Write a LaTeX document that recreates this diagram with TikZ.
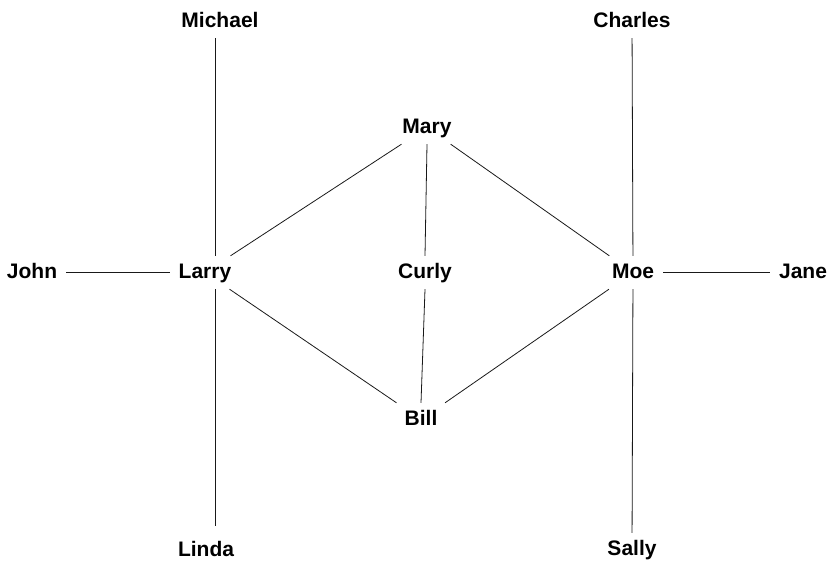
\documentclass[tikz,border=0pt]{standalone}
\usepackage{fontspec}
\setmainfont{Liberation Sans}
\usepackage{tikz}

\begin{document}
\begin{tikzpicture}[
    x=1pt, y=-1pt,
    person/.style={anchor=base, font=\fontsize{21}{25}\selectfont\bfseries,
        text height=15pt, text depth=4pt, inner xsep=9pt, inner ysep=7pt},
    tie/.style={line width=0.8pt, draw=black!90}
]
\useasboundingbox (0,0) rectangle (834,562);
\node[person] (michael) at (220,27) {Michael};
\node[person] (charles) at (632,27) {Charles};
\node[person] (mary) at (427,133) {Mary};
\node[person] (john) at (32,278) {John};
\node[person] (larry) at (205,278) {Larry};
\node[person] (curly) at (425,278) {Curly};
\node[person] (moe) at (633,278) {Moe};
\node[person] (jane) at (803,278) {Jane};
\node[person] (bill) at (421,425) {Bill};
\node[person] (linda) at (206,556) {Linda};
\node[person] (sally) at (632,555) {Sally};

\draw[tie] ([xshift=-5pt]michael.south) -- ([xshift=10pt]larry.north);
\draw[tie] ([xshift=10pt]larry.south) -- ([xshift=9pt,yshift=8pt]linda.north);
\draw[tie] (john) -- (larry);
\draw[tie] (charles) -- (moe);
\draw[tie] (moe) -- (sally);
\draw[tie] (moe) -- (jane);
\draw[tie] (mary.south) -- (curly.north);
\draw[tie] (curly.south) -- (bill.north);
\draw[tie] (mary) -- (larry);
\draw[tie] (mary) -- (moe);
\draw[tie] (larry) -- (bill);
\draw[tie] (moe) -- (bill);
\end{tikzpicture}
\end{document}
